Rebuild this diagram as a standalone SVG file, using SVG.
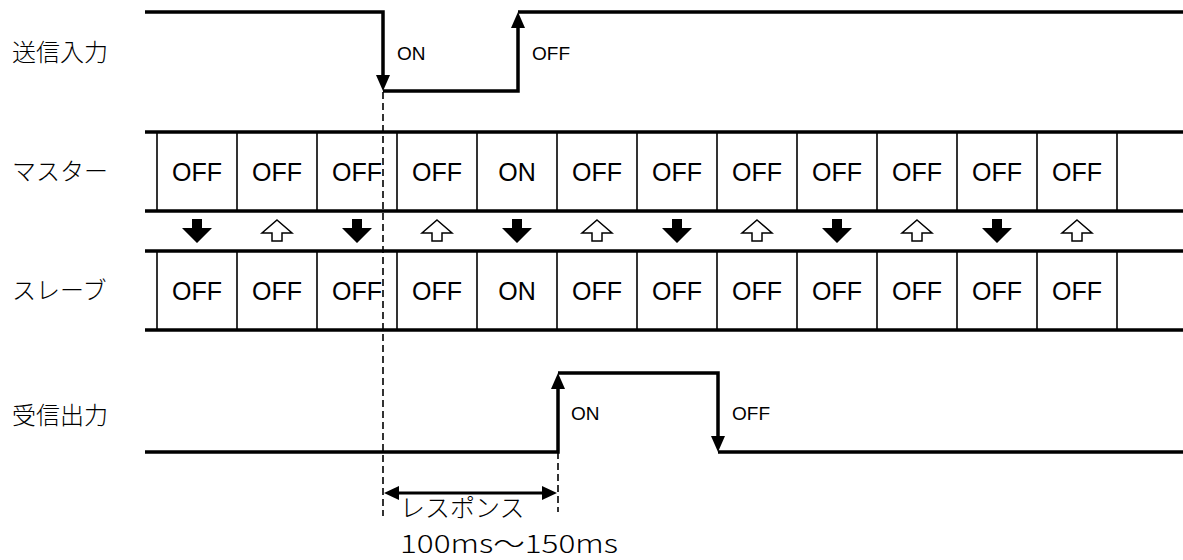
<svg xmlns="http://www.w3.org/2000/svg" xmlns:xlink="http://www.w3.org/1999/xlink" width="1183" height="560" viewBox="0 0 1183 560">
<style>
.sig{fill:none;stroke:#000;stroke-width:3.5;stroke-linejoin:miter}
.bar{stroke:#000;stroke-width:3.5}
.div{stroke:#000;stroke-width:1.6}
.dash{stroke:#000;stroke-width:1.6;stroke-dasharray:7,4;fill:none}
.lbl{font-family:"Noto Sans CJK JP","Noto Sans",sans-serif;font-size:24px;font-weight:300;fill:#000}
.cell{font-family:"Liberation Sans",Arial,sans-serif;font-size:25px;fill:#000;text-anchor:middle}
.edge{font-family:"Liberation Sans",Arial,sans-serif;font-size:19px;fill:#000}
.head{fill:#000;stroke:none}
.down{fill:#000}
.up{fill:#fff;stroke:#000;stroke-width:1.5;stroke-linejoin:miter}
</style>
<defs>
<path id="arrDown" class="down" d="M-5,0 H5 V9 H15 L0,24 L-15,9 H-5 Z"/>
<path id="arrUp" class="up" d="M0,0 L15,13 H5 V21 H-5 V13 H-15 Z"/>
</defs>
<rect width="1183" height="560" fill="#fff"/>

<g id="labels">
<text class="lbl" x="12" y="61">送信入力</text>
<text class="lbl" x="12" y="180">マスター</text>
<text class="lbl" x="12" y="299">スレーブ</text>
<text class="lbl" x="12" y="424">受信出力</text>
</g>

<g id="connectors">
<line class="dash" x1="383" y1="92" x2="383" y2="516"/>
<line class="dash" x1="558" y1="452" x2="558" y2="512"/>
</g>

<g id="send-input">
<path class="sig" d="M145,12 H383 V80 M383,91 H518 V24 M518,12 H1183"/>
<path class="head" d="M376,75 H390 L383,91 Z"/>
<path class="head" d="M511,28 H525 L518,12 Z"/>
<text class="edge" x="397" y="60">ON</text>
<text class="edge" x="532" y="60">OFF</text>
</g>

<g id="master">
<line class="bar" x1="145" y1="132" x2="1183" y2="132"/>
<line class="bar" x1="145" y1="211" x2="1183" y2="211"/>
<g class="div">
<line x1="157" y1="132" x2="157" y2="211"/><line x1="237" y1="132" x2="237" y2="211"/><line x1="317" y1="132" x2="317" y2="211"/><line x1="397" y1="132" x2="397" y2="211"/><line x1="477" y1="132" x2="477" y2="211"/><line x1="557" y1="132" x2="557" y2="211"/><line x1="637" y1="132" x2="637" y2="211"/><line x1="717" y1="132" x2="717" y2="211"/><line x1="797" y1="132" x2="797" y2="211"/><line x1="877" y1="132" x2="877" y2="211"/><line x1="957" y1="132" x2="957" y2="211"/><line x1="1037" y1="132" x2="1037" y2="211"/><line x1="1117" y1="132" x2="1117" y2="211"/>
</g>
<text class="cell" x="197" y="181">OFF</text><text class="cell" x="277" y="181">OFF</text><text class="cell" x="357" y="181">OFF</text><text class="cell" x="437" y="181">OFF</text><text class="cell" x="517" y="181">ON</text><text class="cell" x="597" y="181">OFF</text><text class="cell" x="677" y="181">OFF</text><text class="cell" x="757" y="181">OFF</text><text class="cell" x="837" y="181">OFF</text><text class="cell" x="917" y="181">OFF</text><text class="cell" x="997" y="181">OFF</text><text class="cell" x="1077" y="181">OFF</text>
</g>

<g id="transfer-arrows">
<use xlink:href="#arrDown" x="197" y="219"/>
<use xlink:href="#arrUp" x="277" y="220"/>
<use xlink:href="#arrDown" x="357" y="219"/>
<use xlink:href="#arrUp" x="437" y="220"/>
<use xlink:href="#arrDown" x="517" y="219"/>
<use xlink:href="#arrUp" x="597" y="220"/>
<use xlink:href="#arrDown" x="677" y="219"/>
<use xlink:href="#arrUp" x="757" y="220"/>
<use xlink:href="#arrDown" x="837" y="219"/>
<use xlink:href="#arrUp" x="917" y="220"/>
<use xlink:href="#arrDown" x="997" y="219"/>
<use xlink:href="#arrUp" x="1077" y="220"/>
</g>

<g id="slave">
<line class="bar" x1="145" y1="251" x2="1183" y2="251"/>
<line class="bar" x1="145" y1="330" x2="1183" y2="330"/>
<g class="div">
<line x1="157" y1="251" x2="157" y2="330"/><line x1="237" y1="251" x2="237" y2="330"/><line x1="317" y1="251" x2="317" y2="330"/><line x1="397" y1="251" x2="397" y2="330"/><line x1="477" y1="251" x2="477" y2="330"/><line x1="557" y1="251" x2="557" y2="330"/><line x1="637" y1="251" x2="637" y2="330"/><line x1="717" y1="251" x2="717" y2="330"/><line x1="797" y1="251" x2="797" y2="330"/><line x1="877" y1="251" x2="877" y2="330"/><line x1="957" y1="251" x2="957" y2="330"/><line x1="1037" y1="251" x2="1037" y2="330"/><line x1="1117" y1="251" x2="1117" y2="330"/>
</g>
<text class="cell" x="197" y="300">OFF</text><text class="cell" x="277" y="300">OFF</text><text class="cell" x="357" y="300">OFF</text><text class="cell" x="437" y="300">OFF</text><text class="cell" x="517" y="300">ON</text><text class="cell" x="597" y="300">OFF</text><text class="cell" x="677" y="300">OFF</text><text class="cell" x="757" y="300">OFF</text><text class="cell" x="837" y="300">OFF</text><text class="cell" x="917" y="300">OFF</text><text class="cell" x="997" y="300">OFF</text><text class="cell" x="1077" y="300">OFF</text>
</g>

<g id="receive-output">
<path class="sig" d="M145,452 H558 V385 M558,373 H718 V441 M718,452 H1183"/>
<path class="head" d="M551,389 H565 L558,373 Z"/>
<path class="head" d="M711,436 H725 L718,452 Z"/>
<text class="edge" x="571" y="420">ON</text>
<text class="edge" x="732" y="420">OFF</text>
</g>

<g id="response">
<line x1="396" y1="493" x2="545" y2="493" stroke="#000" stroke-width="3"/>
<path class="head" d="M384,493 L399,486 V500 Z"/>
<path class="head" d="M557,493 L542,486 V500 Z"/>
<text class="lbl" x="400" y="517" style="font-size:25px">レスポンス</text>
<text class="lbl" x="400" y="553" style="font-size:25px" textLength="218" lengthAdjust="spacingAndGlyphs">100ms～150ms</text>
</g>
</svg>
